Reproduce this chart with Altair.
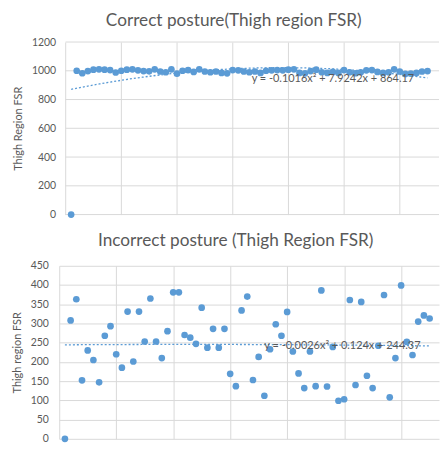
import altair as alt
import pandas as pd

FONT = "Lato"
GREY = "#595959"
BLUE = "#5b9bd5"
GRID = "#d9d9d9"

# ---- data ----
top_x = list(range(1, 66))
top_y = [0, 1000, 983, 998, 1008, 1010, 1008, 1005, 988, 1000,
         1008, 1010, 1003, 998, 996, 1010, 995, 990, 1010, 980,
         1000, 1005, 992, 1010, 995, 990, 995, 985, 982, 1005,
         1003, 995, 990, 995, 985, 1000, 1003, 1005, 1003, 1008,
         1010, 985, 982, 998, 1008, 990, 985, 992, 985, 1005,
         990, 983, 990, 1003, 1005, 992, 985, 990, 1010, 995,
         978, 980, 985, 995, 998]

bottom_x = list(range(1, 66))
bottom_y = [0, 308, 363, 152, 230, 205, 147, 268, 293, 220,
            185, 331, 201, 331, 253, 365, 253, 210, 280, 381,
            381, 270, 263, 247, 341, 237, 286, 237, 286, 169,
            137, 334, 370, 153, 213, 112, 233, 298, 268, 330,
            227, 170, 132, 227, 137, 386, 136, 239, 99, 103,
            361, 140, 356, 164, 132, 242, 374, 108, 210, 399,
            252, 218, 305, 321, 313]

top_title = "Correct posture(Thigh region FSR)"
bottom_title = "Incorrect posture (Thigh Region FSR)"
top_ytitle = "Thigh Region FSR"
bottom_ytitle = "Thigh region FSR"
top_eq = "y = -0.1016x\u00b2 + 7.9242x + 864.17"
bottom_eq = "y = -0.0026x\u00b2 + 0.124x + 244.37"
top_eq_pos = [48.0, 943.0]
bottom_eq_pos = [49.7, 241.0]
x_ticks = [0, 10, 20, 30, 40, 50, 60]
top_y_ticks = [0, 200, 400, 600, 800, 1000, 1200]
bottom_y_ticks = [0, 50, 100, 150, 200, 250, 300, 350, 400, 450]

W = 381.9


def panel(xs, ys, title, ytitle, yticks, xmin, xmax, height, eq, eqpos,
          title_dx, title_offset, label_pad, title_pad, own_grid):
    df = pd.DataFrame({"x": xs, "y": ys})
    xscale = alt.Scale(domain=[xmin, xmax], nice=False, zero=False)
    yscale = alt.Scale(domain=[0, yticks[-1]], nice=False)
    xaxis = alt.Axis(values=x_ticks, tickCount=30, labels=False, ticks=False,
                     domain=False, grid=True, gridColor=GRID, title=None)
    yaxis = alt.Axis(values=yticks, tickCount=30, ticks=False,
                     domain=False, grid=not own_grid, gridColor=GRID, format="d",
                     labelOverlap=False,
                     labelPadding=label_pad, titlePadding=title_pad,
                     labelFont=FONT, labelFontSize=10.5, labelColor=GREY,
                     titleFont=FONT, titleFontSize=11, titleColor=GREY,
                     titleFontWeight="normal", title=ytitle)
    base = alt.Chart(df)
    layers = []
    if own_grid:
        gdf = pd.DataFrame({"v": yticks, "x0": [0] * len(yticks), "x1": [xmax] * len(yticks)})
        grid = alt.Chart(gdf).mark_rule(color=GRID, strokeWidth=1).encode(
            x=alt.X("x0:Q", scale=xscale, axis=xaxis),
            x2="x1:Q",
            y=alt.Y("v:Q", scale=yscale, axis=yaxis))
        layers.append(grid)
        pts = base.mark_circle(size=45, color=BLUE, opacity=1).encode(x="x:Q", y="y:Q")
    else:
        pts = base.mark_circle(size=45, color=BLUE, opacity=1).encode(
            x=alt.X("x:Q", scale=xscale, axis=xaxis),
            y=alt.Y("y:Q", scale=yscale, axis=yaxis))
    layers.append(pts)
    trend = (base.transform_regression("x", "y", method="poly", order=2, extent=[1, 65])
             .mark_line(color=BLUE, strokeDash=[2, 2], strokeWidth=1.3)
             .encode(x="x:Q", y="y:Q"))
    eqdf = pd.DataFrame({"x": [eqpos[0]], "y": [eqpos[1]], "t": [eq]})
    txt = alt.Chart(eqdf).mark_text(font=FONT, fontSize=11, color=GREY).encode(
        x="x:Q", y="y:Q", text="t:N")
    layers += [trend, txt]
    return alt.layer(*layers).properties(
        width=W, height=height,
        title=alt.TitleParams(title, dx=title_dx, offset=title_offset, fontSize=17.3,
                              font=FONT, color=GREY, fontWeight="normal"))


top = panel(top_x, top_y, top_title, top_ytitle, top_y_ticks, -6.4 / 5.6, (W - 6.4) / 5.6,
            173.5, top_eq, top_eq_pos, -15.5, 8.2, 3.6, 8, True)
bottom = panel(bottom_x, bottom_y, bottom_title, bottom_ytitle, bottom_y_ticks, 0, W / 5.73,
               174, bottom_eq, bottom_eq_pos, -13.5, 11.4, 10.9, 7.7, False)

chart = alt.concat(top, bottom, columns=1, spacing=12).properties(
    padding={"left": 3.5, "top": 2, "right": 0, "bottom": 0}, background="white"
).configure_view(stroke=None)

chart.save("out.html", embed_options={"renderer": "svg", "actions": False})
